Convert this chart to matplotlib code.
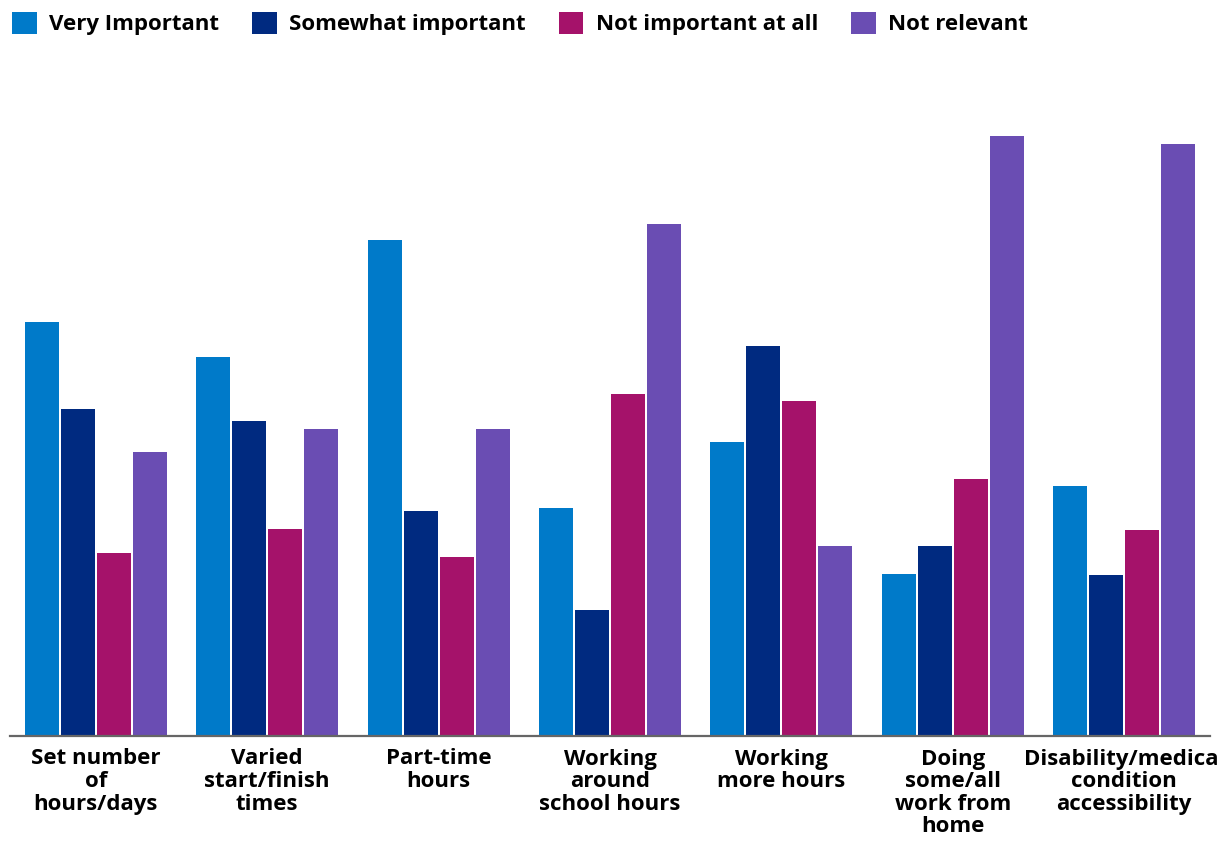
import matplotlib.pyplot as plt
import numpy as np

plt.rcParams['font.family'] = ['Open Sans', 'DejaVu Sans']

categories = ["Set number\nof\nhours/days", "Varied\nstart/finish\ntimes", "Part-time\nhours",
              "Working\naround\nschool hours", "Working\nmore hours", "Doing\nsome/all\nwork from\nhome",
              "Disability/medical\ncondition\naccessibility"]
series = ["Very Important", "Somewhat important", "Not important at all", "Not relevant"]
very = [41.4, 37.9, 49.6, 22.8, 29.4, 16.2, 25.0]
somewhat = [32.7, 31.5, 22.5, 12.6, 39.0, 19.0, 16.1]
not_imp = [18.3, 20.7, 17.9, 34.2, 33.5, 25.7, 20.6]
not_rel = [28.4, 30.7, 30.7, 51.2, 19.0, 60.0, 59.2]
colors = ["#007ac9", "#002a80", "#a5126a", "#6a4db3"]

fig = plt.figure(figsize=(12.2, 8.6), dpi=100)
ax = fig.add_axes([10 / 1220, 1 - 736 / 860, 1200 / 1220, 676 / 860])

x = np.arange(len(categories))
stride = 36 / 171.3
width = 34 / 171.3
for i, (name, vals) in enumerate(zip(series, [very, somewhat, not_imp, not_rel])):
    ax.bar(x + (i - 1.5) * stride, vals, width, color=colors[i], label=name)

ax.set_xlim(-0.5, 6.5)
ax.set_ylim(0, 67.6)
ax.set_yticks([])
for s in ["top", "right", "left"]:
    ax.spines[s].set_visible(False)
ax.spines["bottom"].set_color("#666666")
ax.spines["bottom"].set_linewidth(1.6)
ax.set_xticks(x)
ax.set_xticklabels(categories, fontsize=16, fontweight="bold", linespacing=1.1, va="top")
ax.tick_params(axis="x", length=0, pad=9)

fig.legend(loc="upper left", bbox_to_anchor=(0.0, 1.0), ncol=4, frameon=False,
           prop={"size": 16, "weight": "bold"}, handlelength=1.1, handleheight=1.1,
           handletextpad=0.55, columnspacing=1.5, borderaxespad=0.0, borderpad=0.55)

fig.savefig("out.png", dpi=100)
